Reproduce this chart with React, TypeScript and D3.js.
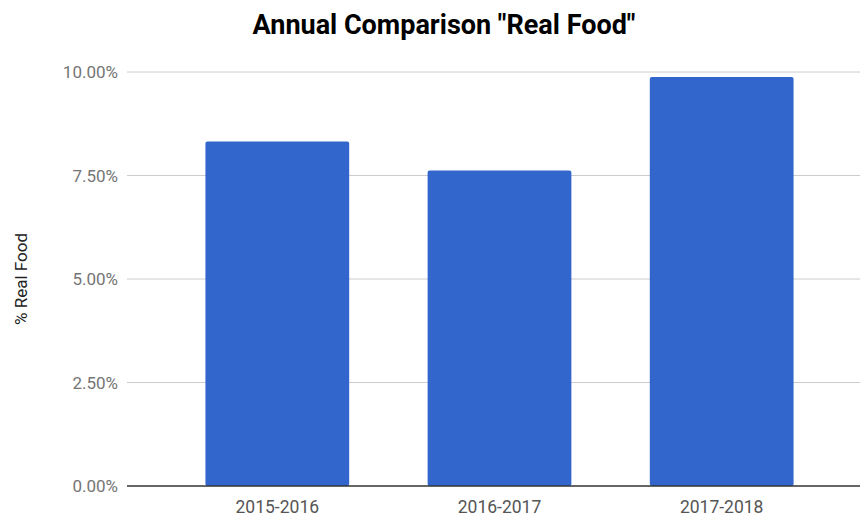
import React from "react";
import * as d3 from "d3";

const categories = ["2015-2016", "2016-2017", "2017-2018"];
const values = [0.0832, 0.0762, 0.0988];
const yTicks = [0, 0.025, 0.05, 0.075, 0.1];

const W = 860;
const H = 516;

export default function App() {
  const left = 127;
  const top = 72;
  const bottom = 486;
  const x = d3.scaleBand<string>().domain(categories).range([left, 872]).paddingInner(0.353).paddingOuter(0.353);
  const y = d3.scaleLinear().domain([0, 0.1]).range([bottom, top]);
  const fmt = d3.format(".2%");
  const font = "Roboto, 'Noto Sans', sans-serif";
  return (
    <svg width={W} height={H} style={{ position: "absolute", left: 0, top: 0 }} fontFamily={font}>
      <rect width={W} height={H} fill="#fff" />
      <text x={444} y={34} textAnchor="middle" fontSize={27} fontWeight="bold" fill="#000">
        Annual Comparison "Real Food"
      </text>
      {yTicks.map((t) => (
        <g key={t}>
          {t > 0 && <line x1={left} x2={W} y1={y(t)} y2={y(t)} stroke="#cccccc" strokeWidth={1} />}
          <text x={118} y={y(t)} dy="0.37em" textAnchor="end" fontSize={17} fill="#757575">
            {fmt(t)}
          </text>
        </g>
      ))}
      {categories.map((c, i) => (
        <g key={c}>
          <rect
            x={x(c)}
            y={y(values[i])}
            width={x.bandwidth()}
            height={bottom - y(values[i])}
            rx={2}
            ry={2}
            fill="#3366cc"
          />
          <text x={(x(c) as number) + x.bandwidth() / 2} y={513} textAnchor="middle" fontSize={17.5} fill="#555">
            {c}
          </text>
        </g>
      ))}
      <line x1={left} x2={W} y1={bottom} y2={bottom} stroke="#333" strokeWidth={1.5} />
      <text
        transform={`translate(27,${(top + bottom) / 2}) rotate(-90)`}
        textAnchor="middle"
        fontSize={17}
        fill="#222"
      >
        % Real Food
      </text>
    </svg>
  );
}
